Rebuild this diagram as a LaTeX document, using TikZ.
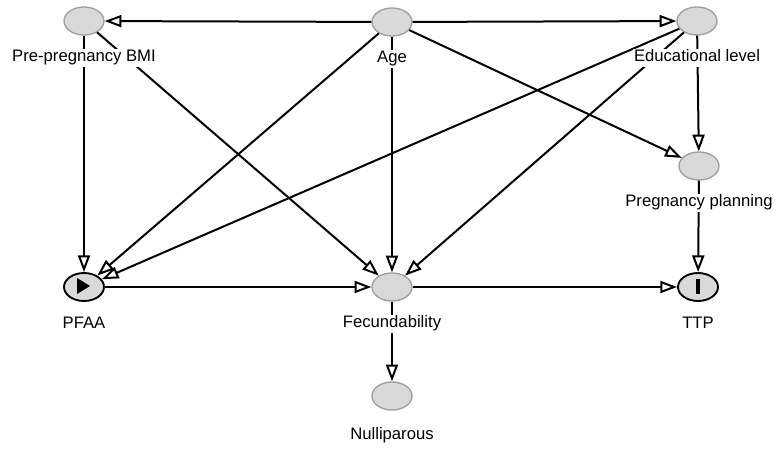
\documentclass[tikz,border=0pt]{standalone}
\usepackage{fontspec}
\setmainfont{Liberation Sans}
\usepackage{tikz}
\usetikzlibrary{arrows.meta,positioning,shapes.geometric}

\definecolor{nodefill}{HTML}{D9D9D9}
\definecolor{nodeline}{HTML}{9E9E9E}

\tikzset{
  var/.style={ellipse,draw=nodeline,fill=nodefill,line width=1pt,
    minimum width=30pt,minimum height=21pt,inner sep=0pt},
  mainvar/.style={var,draw=black,line width=1.4pt},
  varlabel/.style={fill=white,inner sep=1pt,font=\fontsize{12.5}{14}\selectfont,
    text height=9pt,text depth=2.5pt}
}

\begin{document}
\begin{tikzpicture}[x=0.75pt,y=-0.75pt,->,>={Triangle[open,length=12.5pt,width=9pt]},
  line width=1.5pt]
\useasboundingbox (0,0) rectangle (779,452);

\node[var] (BMI) at (84,21) {};
\node[var] (Age) at (392,22) {};
\node[var] (Edu) at (697,21) {};
\node[var] (Plan) at (699,166) {};
\node[mainvar] (PFAA) at (84,287) {};
\node[var] (Fec) at (392,287) {};
\node[mainvar] (TTP) at (698,287) {};
\node[var] (Nulli) at (392,396) {};

% exposure and outcome marks
\fill[black] (77,278) -- (90,286) -- (77,294) -- cycle;
\fill[black] (695.5,279) rectangle (700,294);

\path
  (Age) edge (BMI)
  (Age) edge (Edu)
  (Age) edge (PFAA)
  (Age) edge (Fec)
  (Age) edge (Plan)

  (BMI) edge (PFAA)
  (BMI) edge (Fec)

  (Edu) edge (PFAA)
  (Edu) edge (Fec)
  (Edu) edge (Plan)

  (Plan) edge (TTP)
  (PFAA) edge (Fec)
  (Fec) edge (TTP)
  (Fec) edge (Nulli)
;

\node[varlabel] (BMI_l) [below=9pt of BMI] {Pre-pregnancy BMI};
\node[varlabel] (Age_l) [below=9pt of Age] {Age};
\node[varlabel] (Edu_l) [below=9pt of Edu] {Educational level};
\node[varlabel] (Plan_l) [below=9pt of Plan] {Pregnancy planning};
\node[varlabel] (PFAA_l) [below=9pt of PFAA] {PFAA};
\node[varlabel] (Fec_l) [below=9pt of Fec] {Fecundability};
\node[varlabel] (TTP_l) [below=9pt of TTP] {TTP};
\node[varlabel] (Nulli_l) [below=11pt of Nulli] {Nulliparous};
\end{tikzpicture}
\end{document}
